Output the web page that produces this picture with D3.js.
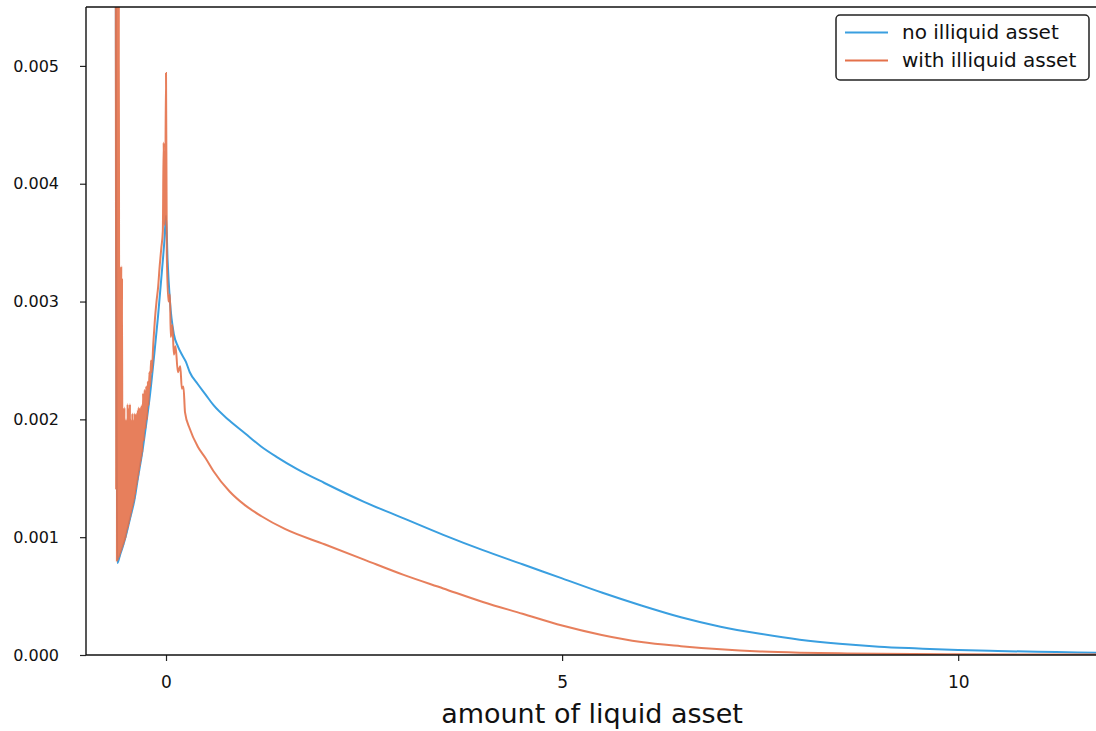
<!DOCTYPE html>
<html>
<head>
<meta charset="utf-8">
<script src="https://cdn.jsdelivr.net/npm/d3@7"></script>
<style>
  html, body { margin: 0; padding: 0; background: #fff; }
  svg { display: block; font-family: "DejaVu Sans", sans-serif; }
</style>
</head>
<body>
<svg id="chart" width="1096" height="731"></svg>
<script>
// Density of liquid asset holdings, with and without an illiquid asset

const noIlliquidX = [-0.635, -0.615, -0.58, -0.55, -0.5, -0.45, -0.4, -0.35, -0.3, -0.25, -0.2, -0.15, -0.1, -0.05, -0.02, 0,
  0.02, 0.05, 0.1, 0.15, 0.2, 0.25, 0.3, 0.4, 0.5, 0.6, 0.8, 1.0, 1.2, 1.4, 1.65, 2.0, 2.5, 3.0, 3.5, 4.0, 4.5, 5.0,
  5.5, 6.0, 6.5, 7.0, 7.5, 8.0, 8.5, 9.0, 9.5, 10.0, 10.5, 11.0, 11.5, 12.0];
const noIlliquidY = [0.0062, 0.00078, 0.00085, 0.00091, 0.00103, 0.00117, 0.00131, 0.00152, 0.00172, 0.00196, 0.00222,
  0.00254, 0.00288, 0.00327, 0.00352, 0.00373,
  0.00335, 0.00300, 0.00272, 0.00262, 0.00255, 0.00249, 0.00240, 0.00230, 0.00221, 0.00212, 0.00199, 0.00188, 0.00177,
  0.00168, 0.00158, 0.00146, 0.00130, 0.00116, 0.00102, 0.00089, 0.00077, 0.00065,
  0.00053, 0.00042, 0.00032, 0.00024, 0.00018, 0.00013, 0.000095, 0.00007, 0.000055, 0.000042, 0.000034, 0.000027,
  0.000022, 0.000018];

const withIlliquidX = [-0.635, -0.63, -0.625, -0.62, -0.615, -0.61, -0.605, -0.6, -0.595, -0.59, -0.585, -0.58,
  -0.575, -0.57, -0.565, -0.56, -0.555, -0.55, -0.545, -0.54, -0.535, -0.53, -0.525, -0.52, -0.515, -0.51, -0.505,
  -0.5, -0.495, -0.49, -0.485, -0.48, -0.475, -0.47, -0.465, -0.46, -0.455, -0.45, -0.445, -0.44, -0.435, -0.43,
  -0.425, -0.42, -0.415, -0.41, -0.405, -0.4, -0.395, -0.39, -0.385, -0.38, -0.375, -0.37, -0.365, -0.36, -0.355,
  -0.35, -0.345, -0.34, -0.335, -0.33, -0.325, -0.32, -0.315, -0.31, -0.305, -0.3, -0.29, -0.28, -0.27, -0.26, -0.25,
  -0.24, -0.23, -0.22, -0.21, -0.2, -0.19, -0.18, -0.16, -0.14, -0.12, -0.1, -0.08, -0.06, -0.04, -0.03, -0.02,
  -0.01, 0, 0.01, 0.03, 0.05, 0.06, 0.08, 0.1, 0.12, 0.15, 0.18, 0.2, 0.22, 0.24, 0.3, 0.4, 0.5, 0.6, 0.8, 1.0, 1.2,
  1.5, 2.0, 2.5, 3.0, 3.5, 4.0, 4.5, 5.0, 5.5, 6.0, 6.5, 7.0, 7.5, 8.0, 8.5, 9.0, 10.0, 11.0, 12.0];
const withIlliquidY = [0.0070, 0.0014, 0.0068, 0.00079, 0.0066, 0.00080, 0.0062, 0.00082, 0.0058, 0.00083, 0.0033,
  0.00085, 0.0031, 0.00087, 0.0033, 0.00089, 0.0032, 0.00091, 0.0021, 0.00093, 0.0020, 0.00095, 0.0021, 0.00097,
  0.0019, 0.00099, 0.0020, 0.00103, 0.0018, 0.00106, 0.00213, 0.00108, 0.0021, 0.00111, 0.0019, 0.00114, 0.00213,
  0.00117, 0.0020, 0.00120, 0.0019, 0.00123, 0.00205, 0.00126, 0.0020, 0.00129, 0.0019, 0.00132, 0.00205, 0.00136,
  0.0020, 0.00140, 0.00205, 0.00144, 0.0020, 0.00148, 0.00208, 0.00152, 0.0021, 0.00156, 0.00205, 0.00160, 0.0021,
  0.00164, 0.00208, 0.00168, 0.00212, 0.00172, 0.00222, 0.00182, 0.00225, 0.00192, 0.00228, 0.00200, 0.00232, 0.00212,
  0.00240, 0.00228, 0.00250, 0.00240, 0.00265, 0.00285, 0.00300, 0.00312, 0.00330, 0.00345, 0.00360, 0.00435, 0.00365,
  0.00385, 0.00494, 0.00340, 0.00300, 0.00306, 0.00270, 0.00280, 0.00255, 0.00262, 0.00240, 0.00245, 0.00226, 0.00228,
  0.00206, 0.00192, 0.00177, 0.00167, 0.00156, 0.00139, 0.00127, 0.00118, 0.00107, 0.00094, 0.00081, 0.00068, 0.000565,
  0.00045, 0.00035, 0.00025, 0.00017, 0.00011, 0.000075, 0.000048, 0.00003, 0.00002, 0.000014, 0.00001, 0.000006,
  0.000004, 0.000003];

const xTicks = [0, 5, 10];
const yTicks = [0, 0.001, 0.002, 0.003, 0.004, 0.005];
const seriesNames = ["no illiquid asset", "with illiquid asset"];
const seriesColors = ["#3a9fe0", "#e4714a"];
const seriesOpacity = [1, 0.9];
const xTitle = "amount of liquid asset";

const svg = d3.select("#chart");
const plot = { left: 86, top: 7, right: 1100, bottom: 655 };

const x = d3.scaleLinear().domain([-1.01, 11.79]).range([plot.left, plot.right]);
const y = d3.scaleLinear().domain([0, 0.0055]).range([plot.bottom, plot.top]);

svg.append("defs").append("clipPath").attr("id", "plot-clip")
  .append("rect")
  .attr("x", plot.left).attr("y", plot.top)
  .attr("width", plot.right - plot.left).attr("height", plot.bottom - plot.top);

const line = d3.line()
  .x(d => x(d[0]))
  .y(d => y(d[1]))
  .curve(d3.curveMonotoneX);

const series = [
  d3.zip(noIlliquidX, noIlliquidY),
  d3.zip(withIlliquidX, withIlliquidY)
];

const lines = svg.append("g").attr("clip-path", "url(#plot-clip)");
series.forEach((pts, i) => {
  lines.append("path")
    .datum(pts)
    .attr("fill", "none")
    .attr("stroke", seriesColors[i])
    .attr("stroke-opacity", seriesOpacity[i])
    .attr("stroke-width", 2)
    .attr("d", line);
});

// Axes
const xAxis = svg.append("g")
  .attr("transform", `translate(0,${plot.bottom})`)
  .call(d3.axisBottom(x).tickValues(xTicks).tickFormat(d3.format("d")).tickSize(6).tickPadding(15));
const yAxis = svg.append("g")
  .attr("transform", `translate(${plot.left},0)`)
  .call(d3.axisLeft(y).tickValues(yTicks).tickFormat(d3.format(".3f")).tickSize(6).tickPadding(21));

[xAxis, yAxis].forEach(g => {
  g.select(".domain").remove();
  g.attr("font-size", null).attr("font-family", null);
  g.selectAll(".tick line").attr("stroke", "#222").attr("stroke-width", 1.2);
});
xAxis.selectAll(".tick text").attr("fill", "#111").style("font-size", "17px");
yAxis.selectAll(".tick text").attr("fill", "#111").style("font-size", "16px");

// Spines: left, top, bottom
const spines = svg.append("g").attr("stroke", "#111").attr("stroke-width", 1.4).attr("fill", "none");
spines.append("line").attr("x1", plot.left).attr("x2", plot.left).attr("y1", plot.top).attr("y2", plot.bottom);
spines.append("line").attr("x1", plot.left).attr("x2", plot.right).attr("y1", plot.top).attr("y2", plot.top);
spines.append("line").attr("x1", plot.left).attr("x2", plot.right).attr("y1", plot.bottom).attr("y2", plot.bottom);

// Axis title
svg.append("text")
  .attr("x", 592)
  .attr("y", 723)
  .attr("text-anchor", "middle")
  .attr("fill", "#111")
  .style("font-size", "27px")
  .text(xTitle);

// Legend
const legend = svg.append("g").attr("transform", "translate(836,15)");
legend.append("rect")
  .attr("width", 253).attr("height", 65).attr("rx", 4)
  .attr("fill", "#fff").attr("stroke", "#222").attr("stroke-width", 1.5);
seriesNames.forEach((name, i) => {
  const yy = 17.5 + i * 28;
  legend.append("line")
    .attr("x1", 9).attr("x2", 52).attr("y1", yy).attr("y2", yy)
    .attr("stroke", seriesColors[i]).attr("stroke-width", 2);
  legend.append("text")
    .attr("x", 66).attr("y", yy + 6.5)
    .attr("fill", "#111")
    .style("font-size", "20px")
    .text(name);
});
</script>
</body>
</html>
